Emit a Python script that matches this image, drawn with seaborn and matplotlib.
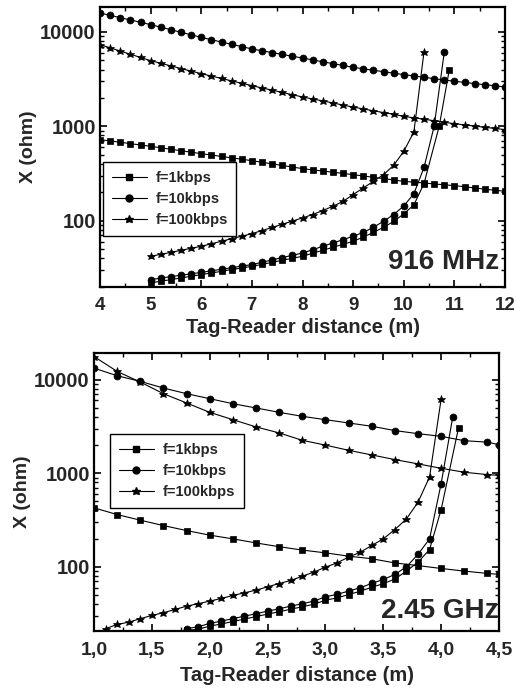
import numpy as np
import matplotlib
matplotlib.use("Agg")
import matplotlib.pyplot as plt
from matplotlib.lines import Line2D
from matplotlib.ticker import MultipleLocator, LogLocator, NullFormatter, FuncFormatter, FixedLocator
import seaborn as sns

sns.set_style("ticks")
plt.rcParams["font.family"] = ["Liberation Sans", "DejaVu Sans"]
plt.rcParams["font.weight"] = "bold"

labels = ["f=1kbps", "f=10kbps", "f=100kbps"]
markers = ["s", "o", "*"]

# ---------------- 916 MHz panel ----------------
top_x_dec = np.round(np.arange(4.0, 12.001, 0.2), 1)
top_1k_dec = [723, 700, 678, 655, 634, 614, 592, 571, 551, 532, 513, 496, 479, 463, 448, 432,
              416, 400, 385, 370, 356, 345, 336, 326, 317, 307, 298, 288, 279, 270, 261, 256,
              251, 245, 240, 235, 229, 222, 216, 210, 205]
top_10k_dec = [15900, 15000, 14190, 13400, 12680, 11960, 11250, 10570, 9930, 9330, 8770, 8280,
               7830, 7400, 7000, 6610, 6320, 6050, 5780, 5530, 5300, 5060, 4830, 4620, 4420,
               4220, 4070, 3930, 3790, 3660, 3530, 3420, 3310, 3200, 3100, 3000, 2920, 2840,
               2760, 2690, 2610]
top_100k_dec = [7350, 6790, 6280, 5810, 5370, 4970, 4660, 4370, 4100, 3850, 3620, 3410, 3220,
                3030, 2860, 2700, 2550, 2420, 2290, 2160, 2050, 1950, 1860, 1770, 1680, 1600,
                1530, 1460, 1400, 1340, 1276, 1230, 1190, 1146, 1106, 1066, 1035, 1006, 977,
                950, 923]

top_x_1k_inc = list(np.round(np.arange(5.0, 10.401, 0.2), 1)) + [10.7, 10.9]
top_1k_inc = [21.9, 22.8, 23.7, 24.7, 25.7, 26.8, 27.9, 29.0, 30.3, 31.5, 32.8, 34.4, 36.1,
              38.0, 39.9, 41.9, 45.1, 48.5, 52.2, 56.1, 60.4, 67, 75, 85, 98, 118, 147, 247,
              1000, 3980]
top_x_10k_inc = np.round(np.arange(5.0, 10.801, 0.2), 1)
top_10k_inc = [23.7, 24.6, 25.5, 26.4, 27.3, 28.3, 29.4, 30.5, 31.7, 33.0, 34.2, 36.2, 38.3,
               40.6, 42.9, 45.4, 49.2, 53.4, 58.0, 62.9, 68.2, 75, 85, 98.4, 116, 143, 193,
               366, 1000, 6080]
top_x_100k_inc = np.round(np.arange(5.0, 10.401, 0.2), 1)
top_100k_inc = [41.9, 44.0, 46.1, 48.5, 50.9, 53.5, 56.9, 60.5, 64.3, 68.4, 72.8, 78.5, 84.7,
                91.6, 98.9, 107, 116, 128, 142, 160, 189, 222, 261, 307, 386, 543, 871, 6140]

# ---------------- 2.45 GHz panel ----------------
bot_x_dec = list(np.round(np.arange(1.0, 4.401, 0.2), 1)) + [4.5]
bot_1k_dec = [427, 362, 315, 276, 244, 218, 199, 180, 164, 151, 141, 130, 122, 110, 103, 96,
              90, 85, 83]
bot_10k_dec = [13300, 11030, 9600, 8150, 7090, 6270, 5540, 4990, 4480, 4060, 3740, 3450, 3180,
               2860, 2650, 2480, 2230, 2150, 2020]
bot_100k_dec = [17700, 12270, 9440, 7090, 5640, 4480, 3740, 3130, 2700, 2250, 2000, 1760, 1570,
                1400, 1260, 1130, 1025, 968, 950]

bot_x_1k_inc = list(np.round(np.arange(1.8, 4.001, 0.1), 1)) + [4.15]
bot_1k_inc = [21.0, 21.5, 23.2, 24.5, 26.0, 27.6, 29.4, 31.2, 33.1, 35.2, 37.4, 39.8, 44.0,
              46.5, 50.5, 54.8, 60.5, 66.0, 74.0, 90, 112, 153, 409, 3050]
bot_x_10k_inc = np.round(np.arange(1.8, 4.101, 0.1), 1)
bot_10k_inc = [21.8, 22.9, 24.8, 26.3, 27.9, 29.7, 31.5, 33.6, 35.6, 38.0, 40.3, 43.0, 47.8,
               50.7, 55.0, 59.7, 66.4, 73.3, 82.8, 100, 136, 199, 776, 3990]
bot_x_100k_inc = np.round(np.arange(1.1, 4.001, 0.1), 1)
bot_100k_inc = [21.8, 24.2, 25.6, 27.9, 30.2, 32.3, 35.0, 38.0, 40.3, 43.0, 45.9, 49.4, 52.7,
                56.3, 61.1, 66.3, 71.4, 79.4, 87.7, 99.2, 110, 127, 143, 169, 199, 250, 325,
                490, 914, 6220]

panels = [
    dict(rect=[100/516, 1-287/692, 405/516, 280/692], xlim=(4, 12), ylim=(19.8, 18400),
         xmajor=1, xminor=0.5, comma=False, title="916 MHz", title_xy=(0.985, 0.065),
         leg=(0.007, 0.182), xpad=7, xlabelpad=3, xsize=13.5,
         series=[[(top_x_dec, top_1k_dec), (top_x_1k_inc, top_1k_inc)],
                 [(top_x_dec, top_10k_dec), (top_x_10k_inc, top_10k_inc)],
                 [(top_x_dec, top_100k_dec), (top_x_100k_inc, top_100k_inc)]]),
    dict(rect=[94/516, 1-631/692, 405/516, 278/692], xlim=(1.0, 4.5), ylim=(20.6, 19300),
         xmajor=0.5, xminor=0.25, comma=True, title="2.45 GHz", title_xy=(1.0, 0.045),
         leg=(0.04, 0.442), xpad=8, xlabelpad=5, xsize=14,
         series=[[(bot_x_dec, bot_1k_dec), (bot_x_1k_inc, bot_1k_inc)],
                 [(bot_x_dec, bot_10k_dec), (bot_x_10k_inc, bot_10k_inc)],
                 [(bot_x_dec, bot_100k_dec), (bot_x_100k_inc, bot_100k_inc)]]),
]

msizes = {"s": 4.4, "o": 5.0, "*": 6.2}

fig = plt.figure(figsize=(5.16, 6.92), dpi=100)
for p in panels:
    ax = fig.add_axes(p["rect"])
    for lab, m, branches in zip(labels, markers, p["series"]):
        for xs, ys in branches:
            sns.lineplot(x=list(xs), y=list(ys), ax=ax, color="black", linewidth=0.8,
                         marker=m, markersize=msizes[m], markeredgecolor="black",
                         markeredgewidth=0.5, estimator=None, sort=False, legend=False)
    ax.set_yscale("log")
    ax.set_xlim(*p["xlim"])
    ax.set_ylim(*p["ylim"])
    ax.xaxis.set_major_locator(MultipleLocator(p["xmajor"]))
    ax.xaxis.set_minor_locator(MultipleLocator(p["xminor"]))
    if p["comma"]:
        ax.xaxis.set_major_formatter(FuncFormatter(lambda v, _: f"{v:.1f}".replace(".", ",")))
    else:
        ax.xaxis.set_major_formatter(FuncFormatter(lambda v, _: f"{v:.0f}"))
    ax.yaxis.set_major_locator(FixedLocator([100, 1000, 10000]))
    ax.yaxis.set_minor_locator(LogLocator(base=10, subs=np.arange(2, 10)))
    ax.yaxis.set_minor_formatter(NullFormatter())
    ax.yaxis.set_major_formatter(FuncFormatter(lambda v, _: f"{int(round(v))}"))
    ax.tick_params(which="both", direction="in", top=True, right=True, color="black")
    ax.tick_params(which="major", length=5, width=1.2, labelsize=14.5, pad=3)
    ax.tick_params(which="minor", length=3, width=1.0)
    ax.tick_params(axis="x", which="major", pad=p["xpad"], labelsize=p["xsize"])
    for t in ax.get_xticklabels() + ax.get_yticklabels():
        t.set_fontweight("bold")
    for s in ax.spines.values():
        s.set_linewidth(1.6)
        s.set_color("black")
        s.set_visible(True)
    ax.set_xlabel("Tag-Reader distance (m)", fontsize=14.5, fontweight="bold",
                  labelpad=p["xlabelpad"])
    ax.set_ylabel("X (ohm)", fontsize=14, fontweight="bold", labelpad=2)
    ax.text(p["title_xy"][0], p["title_xy"][1], p["title"], transform=ax.transAxes,
            ha="right", va="baseline", fontsize=20, fontweight="bold")
    handles = [Line2D([0], [0], color="black", linewidth=0.8, marker=m,
                      markersize=msizes[m], markeredgecolor="black") for m in markers]
    leg = ax.legend(handles, labels, loc="lower left", bbox_to_anchor=p["leg"],
                    borderaxespad=0, frameon=True, fancybox=False, edgecolor="black",
                    framealpha=1, prop={"weight": "bold", "size": 10.5}, handlelength=2.4,
                    borderpad=0.6, labelspacing=0.5, handletextpad=0.6)
    leg.get_frame().set_linewidth(1.0)

fig.savefig("out.png", dpi=100)
